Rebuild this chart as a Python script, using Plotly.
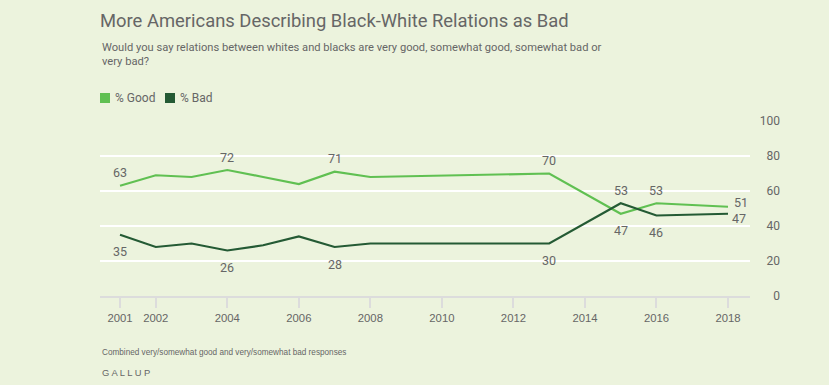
import plotly.graph_objects as go

# ---- data ----
years = [2001, 2002, 2003, 2004, 2005, 2006, 2007, 2008, 2013, 2015, 2016, 2018]
good = [63, 69, 68, 72, 68, 64, 71, 68, 70, 47, 53, 51]
bad = [35, 28, 30, 26, 29, 34, 28, 30, 30, 53, 46, 47]
good_label_years = [2001, 2004, 2007, 2013, 2015, 2016, 2018]
good_label_pos = ["above", "above", "above", "above", "below", "above", "right_up"]
bad_label_years = [2001, 2004, 2007, 2013, 2015, 2016, 2018]
bad_label_pos = ["below", "below", "below", "below", "above", "below", "right_down"]
x_tickvals = [2001, 2002, 2004, 2006, 2008, 2010, 2012, 2014, 2016, 2018]
y_tickvals = [0, 20, 40, 60, 80, 100]
series_names = ["% Good", "% Bad"]

title_text = "More Americans Describing Black-White Relations as Bad"
subtitle_text = ("Would you say relations between whites and blacks are very good, somewhat good, somewhat bad or"
                 "<br>very bad?")
footnote_text = "Combined very/somewhat good and very/somewhat bad responses"
source_text = "G A L L U P"

BG = "#ecf3dd"
GOOD_C = "#60c052"
BAD_C = "#245a34"
TXT = "#666666"
FONT = "Roboto, 'Liberation Sans', sans-serif"
NARROW = "'Liberation Sans Narrow', 'Liberation Sans', sans-serif"

W, H = 829, 385
ML, MR, MT, MB = 100, 40, 121, 89
PW = W - ML - MR
PH = H - MT - MB


def py(ypix):
    return (H - MB - ypix) / PH


def px(xpix):
    return (xpix - ML) / PW


fig = go.Figure()
fig.add_trace(go.Scatter(x=years, y=good, mode="lines", line=dict(color=GOOD_C, width=2.2),
                         name=series_names[0], showlegend=False, hoverinfo="skip", yaxis="y"))
fig.add_trace(go.Scatter(x=years, y=bad, mode="lines", line=dict(color=BAD_C, width=2.2),
                         name=series_names[1], showlegend=False, hoverinfo="skip", yaxis="y2"))
# legend swatches (text is drawn as annotations next to them)
fig.add_trace(go.Scatter(x=[None], y=[None], mode="markers", name="", legend="legend",
                         marker=dict(symbol="square", size=10, color=GOOD_C)))
fig.add_trace(go.Scatter(x=[None], y=[None], mode="markers", name="", legend="legend2",
                         marker=dict(symbol="square", size=10, color=BAD_C)))

annotations = []


def add_labels(series, label_years, label_pos):
    for yr, pos in zip(label_years, label_pos):
        v = series[years.index(yr)]
        a = dict(x=yr, y=v, xref="x", yref="y", text=str(v), showarrow=False,
                 font=dict(family=FONT, size=12.5, color=TXT))
        if pos == "above":
            a.update(yshift=13, xanchor="center")
        elif pos == "below":
            a.update(yshift=-17, xanchor="center")
        elif pos == "right_up":
            a.update(xanchor="left", xshift=4, yshift=4)
        else:
            a.update(xanchor="left", xshift=2, yshift=-5)
        annotations.append(a)


add_labels(good, good_label_years, good_label_pos)
add_labels(bad, bad_label_years, bad_label_pos)

for name, xpix in zip(series_names, [113, 178]):
    annotations.append(dict(x=px(xpix), y=py(98), xref="paper", yref="paper", xanchor="left",
                            yanchor="middle", text=name, showarrow=False,
                            font=dict(family=FONT, size=12, color=TXT)))

annotations.append(dict(x=0, y=py(48), xref="paper", yref="paper", xanchor="left", yanchor="top",
                        text=subtitle_text, showarrow=False, align="left",
                        font=dict(family=FONT, size=11.15, color=TXT), yshift=9))
annotations.append(dict(x=0, y=py(352), xref="paper", yref="paper", xanchor="left", yanchor="middle",
                        text=footnote_text, showarrow=False,
                        font=dict(family=NARROW, size=8.2, color=TXT)))
annotations.append(dict(x=0, y=py(372), xref="paper", yref="paper", xanchor="left", yanchor="middle",
                        text=source_text, showarrow=False,
                        font=dict(family=NARROW, size=9.4, color=TXT)))

legend_common = dict(orientation="h", xanchor="left", yanchor="middle", y=py(98),
                     font=dict(family=FONT, size=12, color=TXT), bgcolor="rgba(0,0,0,0)",
                     itemwidth=30)

fig.update_layout(
    width=W, height=H,
    margin=dict(l=ML, r=MR, t=MT, b=MB, pad=0),
    paper_bgcolor=BG, plot_bgcolor=BG,
    title=dict(text=title_text, x=0, xref="paper", xanchor="left",
               y=1 - 21 / H, yref="container", yanchor="middle",
               font=dict(family=FONT, size=18.4, color=TXT)),
    xaxis=dict(domain=[0, 650 / PW], range=[2000.44, 2018.615], showgrid=False, zeroline=False,
               showline=True, linecolor="#dcdcdc", linewidth=2,
               ticks="outside", ticklen=10, tickwidth=2, tickcolor="#dcdcdc",
               tickvals=x_tickvals, ticktext=[str(v) for v in x_tickvals],
               tickfont=dict(family=NARROW, size=11.3, color=TXT), fixedrange=True),
    yaxis=dict(range=[0, 100], tickvals=y_tickvals, showgrid=True, gridcolor="#ffffff", gridwidth=2,
               zeroline=False, showticklabels=False, showline=False, fixedrange=True),
    yaxis2=dict(range=[0, 100], tickvals=y_tickvals, overlaying="y", anchor="free", side="left",
                position=px(780), showgrid=False, zeroline=False, showline=False,
                ticks="", tickfont=dict(family=FONT, size=12, color=TXT), fixedrange=True),
    legend=dict(x=px(85), **legend_common),
    legend2=dict(x=px(150), **legend_common),
    annotations=annotations,
    showlegend=True,
)

fig.write_html(
    "out.html",
    config={"displayModeBar": False},
    post_script="document.body.style.margin='0';document.body.style.background='%s';" % BG,
)
